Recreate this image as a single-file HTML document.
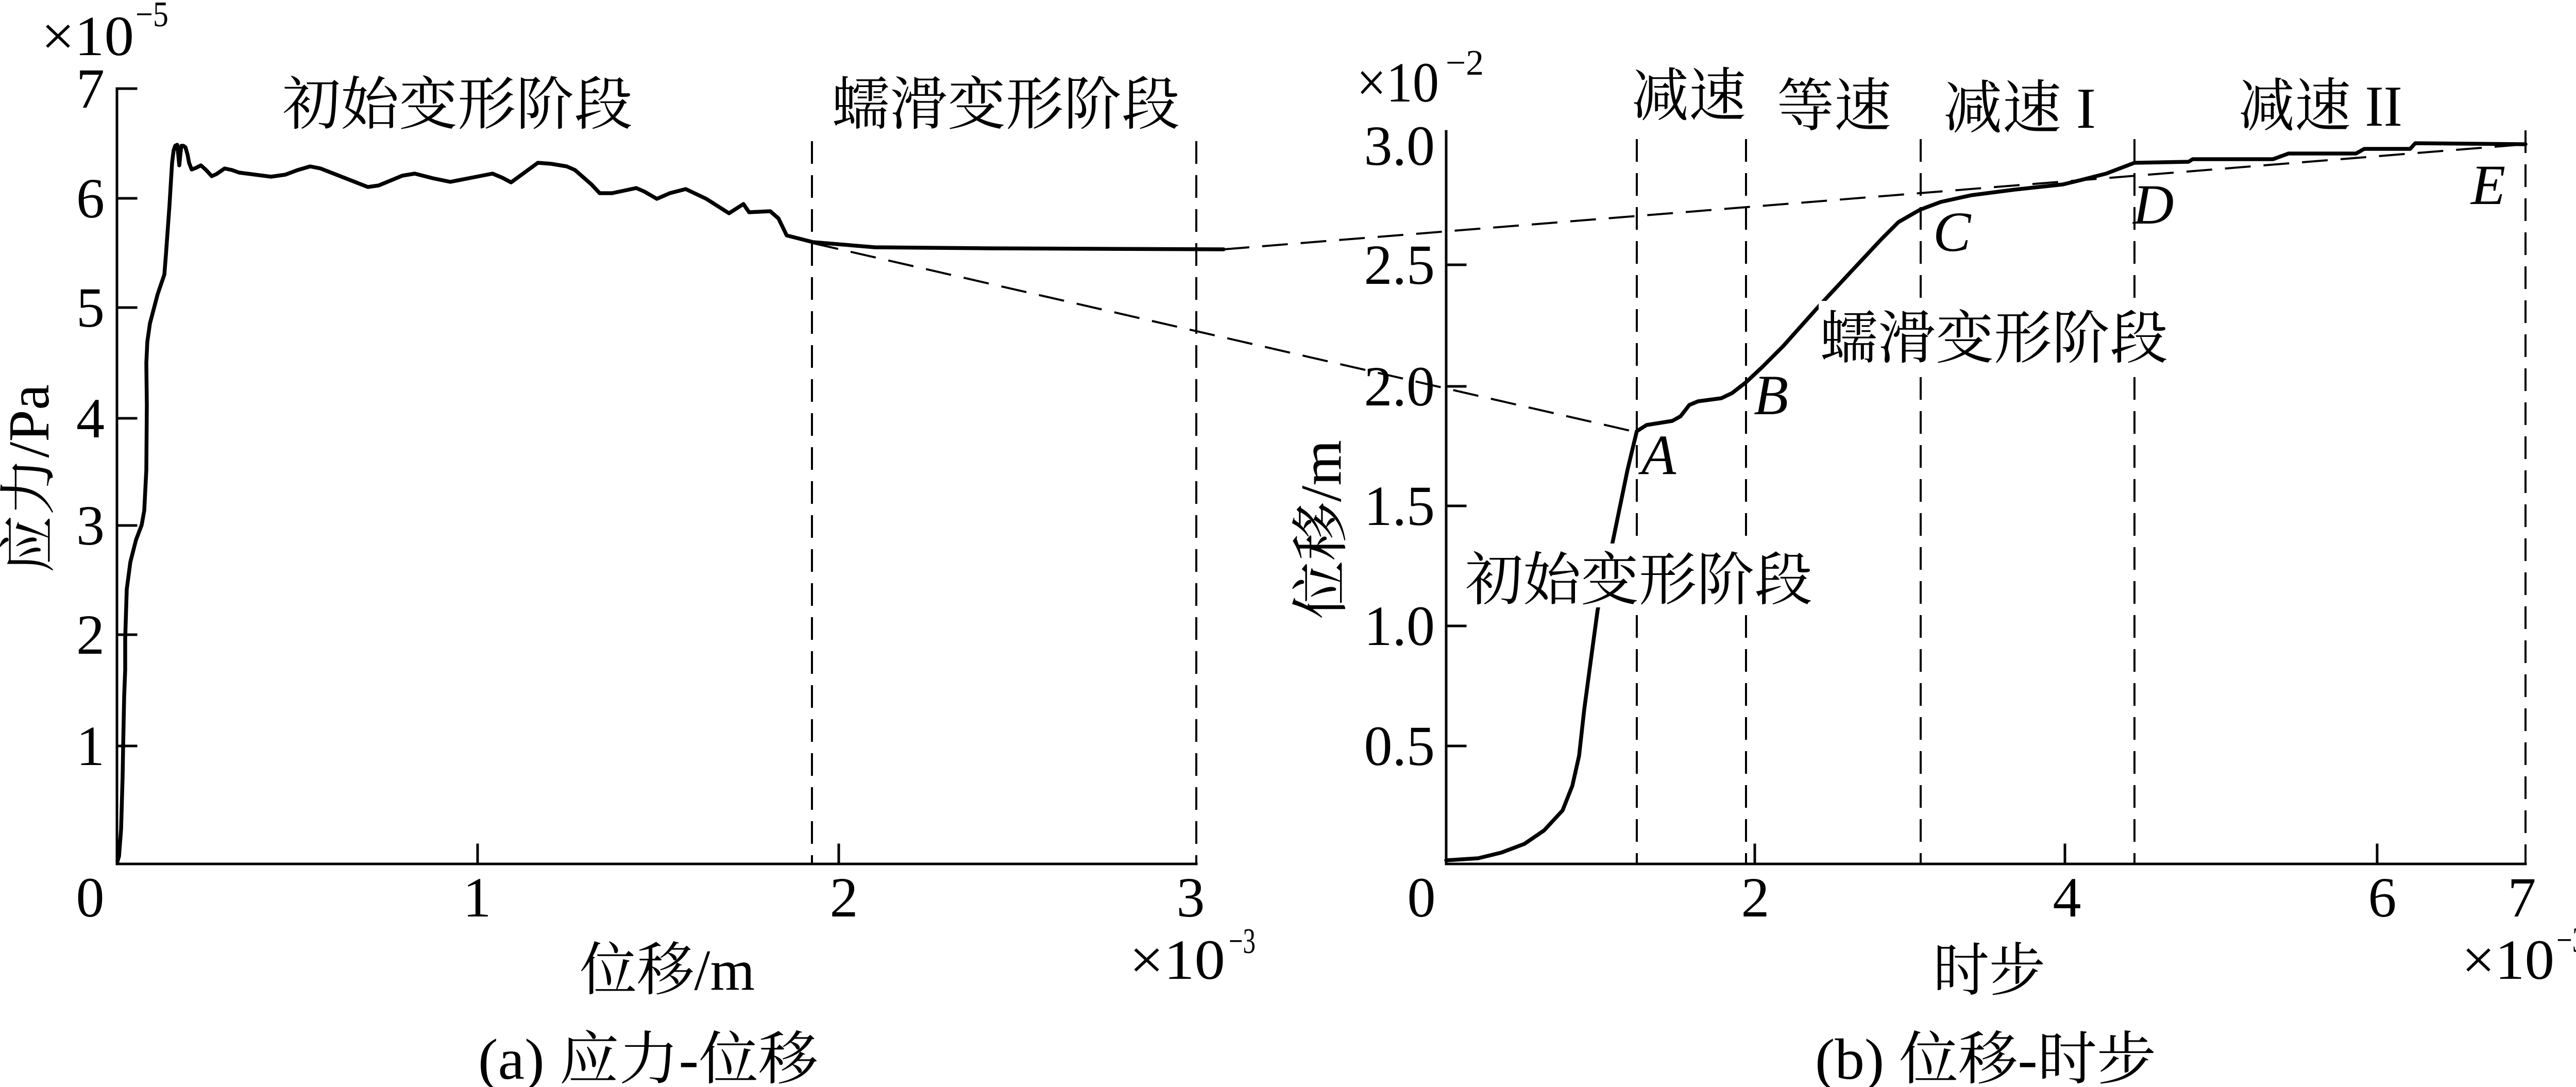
<!DOCTYPE html>
<html>
<head>
<meta charset="utf-8">
<style>
  html, body { margin:0; padding:0; background:#fff; }
  svg { display:block; }
  text { fill:#000; }
  .t { font-family: "Liberation Serif", "Noto Serif CJK SC", serif; }
  .c { font-family: "Liberation Serif", "Noto Serif CJK SC", serif; }
  .i { font-family: "Liberation Serif", serif; font-style: italic; }
</style>
</head>
<body>
<svg width="5022" height="2110" viewBox="0 0 5022 2110" xmlns="http://www.w3.org/2000/svg">
  <rect x="0" y="0" width="5022" height="2110" fill="#fff"/>

  <!-- ================= LEFT PLOT (a) ================= -->
  <g stroke="#000" stroke-width="4" stroke-dasharray="44 22" fill="none">
    <line x1="1576" y1="274" x2="1576" y2="1677"/>
    <line x1="2322" y1="274" x2="2322" y2="1677"/>
  </g>

  <g stroke="#000" stroke-width="5" fill="none" stroke-linecap="square">
    <line x1="227" y1="172" x2="227" y2="1677"/>
    <line x1="227" y1="1677" x2="2322" y2="1677"/>
    <line x1="227" y1="172" x2="264" y2="172"/>
    <line x1="227" y1="385" x2="264" y2="385"/>
    <line x1="227" y1="597" x2="264" y2="597"/>
    <line x1="227" y1="812" x2="264" y2="812"/>
    <line x1="227" y1="1020" x2="264" y2="1020"/>
    <line x1="227" y1="1232" x2="264" y2="1232"/>
    <line x1="227" y1="1448" x2="264" y2="1448"/>
    <line x1="927" y1="1677" x2="927" y2="1640"/>
    <line x1="1628" y1="1677" x2="1628" y2="1640"/>
  </g>

  <g class="t" font-size="110" text-anchor="end">
    <text x="203" y="209">7</text>
    <text x="203" y="422">6</text>
    <text x="203" y="634">5</text>
    <text x="203" y="849">4</text>
    <text x="203" y="1057">3</text>
    <text x="203" y="1269">2</text>
    <text x="203" y="1485">1</text>
  </g>
  <g class="t" font-size="110" text-anchor="middle">
    <text x="175" y="1779">0</text>
    <text x="926" y="1779">1</text>
    <text x="1638" y="1779">2</text>
    <text x="2311" y="1779">3</text>
  </g>

  <text class="t" x="80" y="107" font-size="110" textLength="180" lengthAdjust="spacingAndGlyphs">×10</text>
  <text class="t" x="263" y="51" font-size="70" textLength="64" lengthAdjust="spacingAndGlyphs">−5</text>
  <text class="t" x="2192" y="1900" font-size="110" textLength="186" lengthAdjust="spacingAndGlyphs">×10</text>
  <text class="t" x="2385" y="1850" font-size="70" textLength="52" lengthAdjust="spacingAndGlyphs">−3</text>

  <text class="c" x="1125" y="1921" font-size="112" textLength="340" lengthAdjust="spacingAndGlyphs">位移/m</text>
  <text class="c" font-size="112" transform="translate(94,1112) rotate(-90)" textLength="366" lengthAdjust="spacingAndGlyphs">应力/Pa</text>

  <text class="c" x="548" y="241" font-size="112" textLength="680" lengthAdjust="spacingAndGlyphs">初始变形阶段</text>
  <text class="c" x="1614" y="241" font-size="112" textLength="676" lengthAdjust="spacingAndGlyphs">蠕滑变形阶段</text>

  <text class="c" x="928" y="2094" font-size="112" textLength="660" lengthAdjust="spacingAndGlyphs">(a) 应力-位移</text>

  <!-- connecting dashed lines -->
  <g stroke="#000" stroke-width="4" stroke-dasharray="50 25" fill="none">
    <line x1="1578" y1="472" x2="3177" y2="839"/>
    <line x1="2375" y1="484" x2="4902" y2="280"/>
  </g>

  <polyline fill="none" stroke="#000" stroke-width="7.5" stroke-linejoin="round" stroke-linecap="round"
    points="228,1672 231,1662 235,1610 238,1507 239,1450 241,1352 243,1300 243,1240 246,1144 253,1091 264,1048 275,1019 280,991 284,912 285,787 284,704 286,663 291,628 306,571 319,533 322,495 329,398 334,316 337,292 340,283 344,281 346,300 348,321 350,300 352,283 356,283 360,286 364,300 367,316 372,329 380,326 390,321 400,330 411,342 420,338 436,327 450,330 464,335 526,343 554,339 578,330 602,323 622,327 714,363 735,360 781,341 805,337 840,346 874,353 915,345 956,337 975,345 992,354 1044,316 1070,318 1100,323 1116,330 1148,358 1164,375 1188,375 1235,365 1251,372 1275,386 1300,375 1331,367 1371,386 1415,414 1443,396 1454,412 1495,410 1511,424 1527,457 1578,470 1698,480 1913,482 2375,484"/>

  <!-- ================= RIGHT PLOT (b) ================= -->
  <g stroke="#000" stroke-width="4" stroke-dasharray="44 22" fill="none">
    <line x1="3177" y1="270" x2="3177" y2="1677"/>
    <line x1="3389" y1="270" x2="3389" y2="1677"/>
    <line x1="3728" y1="270" x2="3728" y2="1677"/>
    <line x1="4143" y1="270" x2="4143" y2="1677"/>
    <line x1="4902" y1="253" x2="4902" y2="1677"/>
  </g>

  <g stroke="#000" stroke-width="5" fill="none" stroke-linecap="square">
    <line x1="2807" y1="255" x2="2807" y2="1677"/>
    <line x1="2807" y1="1677" x2="4902" y2="1677"/>
    <line x1="2807" y1="514" x2="2844" y2="514"/>
    <line x1="2807" y1="750" x2="2844" y2="750"/>
    <line x1="2807" y1="982" x2="2844" y2="982"/>
    <line x1="2807" y1="1215" x2="2844" y2="1215"/>
    <line x1="2807" y1="1448" x2="2844" y2="1448"/>
    <line x1="3406" y1="1677" x2="3406" y2="1640"/>
    <line x1="4008" y1="1677" x2="4008" y2="1640"/>
    <line x1="4614" y1="1677" x2="4614" y2="1640"/>
  </g>

  <polyline fill="none" stroke="#000" stroke-width="7.5" stroke-linejoin="round" stroke-linecap="round"
    points="2807,1670 2869,1666 2914,1655 2959,1638 2997,1612 3033,1573 3052,1525 3065,1467 3075,1377 3088,1280 3101,1184 3130,1053 3159,912 3177,837 3196,825 3246,817 3262,808 3279,786 3296,779 3341,773 3362,763 3389,742 3420,713 3461,672 3528,597 3594,526 3652,464 3685,431 3727,407 3767,392 3826,379 3911,368 4004,358 4037,350 4088,337 4143,316 4248,314 4256,309 4412,309 4442,298 4573,298 4589,289 4678,289 4688,278 4902,280"/>

  <rect x="2840" y="1055" width="682" height="124" fill="#fff"/>
  <rect x="3530" y="584" width="682" height="140" fill="#fff"/>

  <text class="c" x="2844" y="1164" font-size="112" textLength="674" lengthAdjust="spacingAndGlyphs">初始变形阶段</text>
  <text class="c" x="3532" y="695" font-size="112" textLength="676" lengthAdjust="spacingAndGlyphs">蠕滑变形阶段</text>

  <g class="t" font-size="110" text-anchor="end">
    <text x="2785" y="320">3.0</text>
    <text x="2785" y="551">2.5</text>
    <text x="2785" y="787">2.0</text>
    <text x="2785" y="1019">1.5</text>
    <text x="2785" y="1252">1.0</text>
    <text x="2785" y="1485">0.5</text>
  </g>
  <g class="t" font-size="110" text-anchor="middle">
    <text x="2759" y="1779">0</text>
    <text x="3407" y="1779">2</text>
    <text x="4012" y="1779">4</text>
    <text x="4624" y="1779">6</text>
    <text x="4895" y="1779">7</text>
  </g>

  <text class="t" x="2633" y="197" font-size="110" textLength="160" lengthAdjust="spacingAndGlyphs">×10</text>
  <text class="t" x="2806" y="145" font-size="70" textLength="74" lengthAdjust="spacingAndGlyphs">−2</text>
  <text class="t" x="4778" y="1900" font-size="110" textLength="180" lengthAdjust="spacingAndGlyphs">×10</text>
  <text class="t" x="4962" y="1848" font-size="70" textLength="58" lengthAdjust="spacingAndGlyphs">−3</text>

  <text class="c" x="3752" y="1922" font-size="112" textLength="218" lengthAdjust="spacingAndGlyphs">时步</text>
  <text class="c" font-size="112" transform="translate(2602,1202) rotate(-90)" textLength="348" lengthAdjust="spacingAndGlyphs">位移/m</text>

  <text class="c" x="3167" y="224" font-size="112" textLength="222" lengthAdjust="spacingAndGlyphs">减速</text>
  <text class="c" x="3449" y="244" font-size="112" textLength="222" lengthAdjust="spacingAndGlyphs">等速</text>
  <text class="c" x="3772" y="248" font-size="112" textLength="296" lengthAdjust="spacingAndGlyphs">减速 I</text>
  <text class="c" x="4345" y="244" font-size="112" textLength="318" lengthAdjust="spacingAndGlyphs">减速 II</text>

  <g class="i" font-size="110">
    <text x="3186" y="920">A</text>
    <text x="3404" y="804">B</text>
    <text x="3752" y="487">C</text>
    <text x="4140" y="434">D</text>
    <text x="4796" y="396">E</text>
  </g>

  <text class="c" x="3523" y="2094" font-size="112" textLength="662" lengthAdjust="spacingAndGlyphs">(b) 位移-时步</text>
</svg>
</body>
</html>
